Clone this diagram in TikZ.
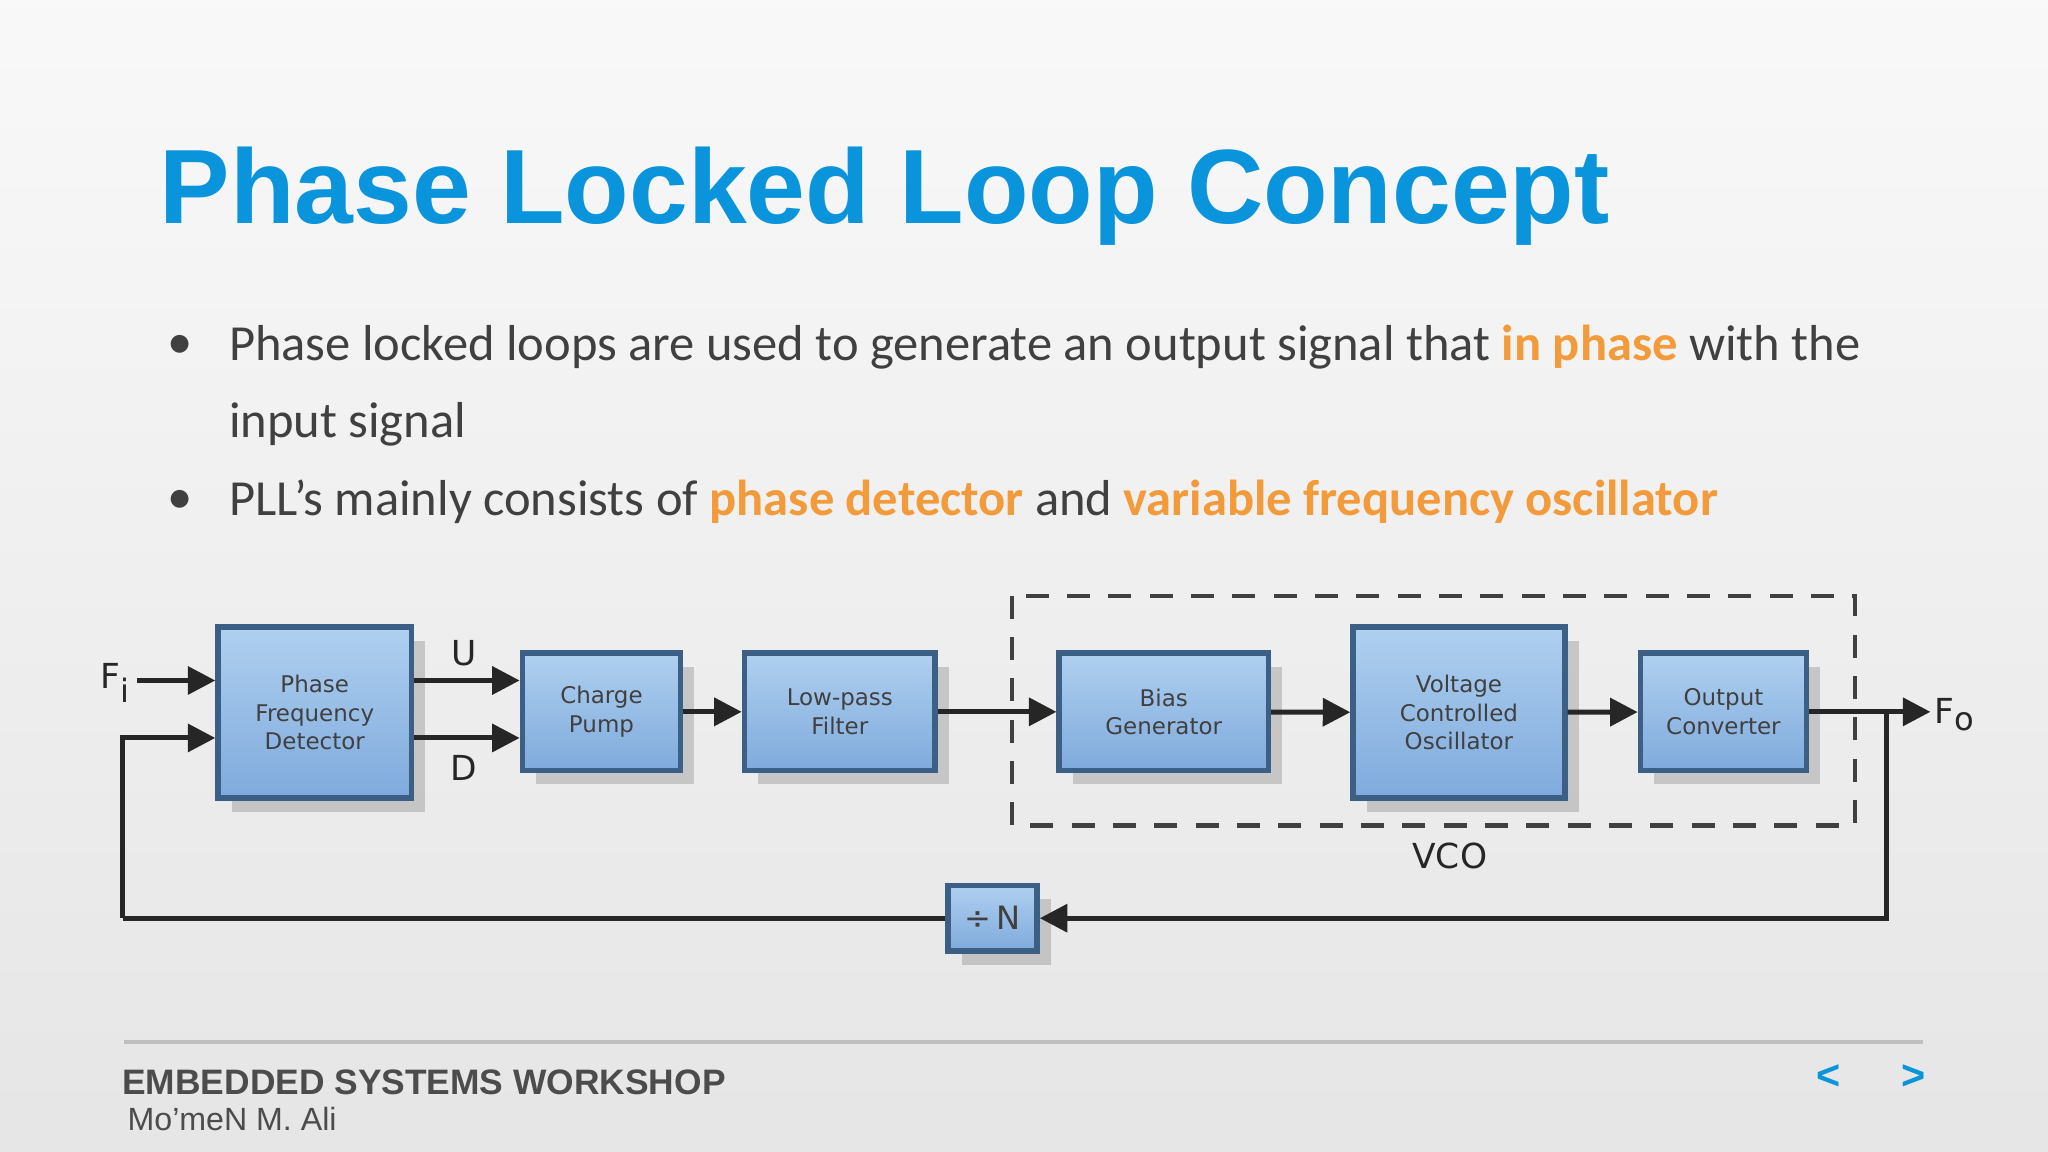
\documentclass[tikz,border=0pt]{standalone}
\usepackage{fontspec}
\setmainfont{Carlito}
\newfontfamily\titlef{Liberation Sans}
\newfontfamily\boxf{DejaVu Sans}
\usetikzlibrary{arrows.meta,shadows}
\definecolor{ttl}{HTML}{0A94DC}
\definecolor{org}{HTML}{F39A3A}
\definecolor{btop}{HTML}{AFD0F0}
\definecolor{bbot}{HTML}{7FAADC}
\definecolor{bdraw}{HTML}{3C5F86}
\begin{document}
\begin{tikzpicture}[x=0.01cm,y=-0.01cm,
  blk/.style={draw=bdraw,line width=1.2pt,top color=btop,bottom color=bbot,
    drop shadow={shadow xshift=3pt,shadow yshift=-3pt,opacity=0.35},
    font=\boxf\fontsize{5}{6.2}\selectfont,text=black!75,align=center,inner sep=0pt},
  wire/.style={line width=1.1pt,black!85},
  arr/.style={wire,-{Triangle[length=6pt,width=6pt]}},
  lbl/.style={font=\boxf\fontsize{7.5}{8}\selectfont,text=black!85},
  body/.style={anchor=west,font=\fontsize{11}{12}\selectfont,text=black!75}]
\shade[top color=white!95!gray,bottom color=black!10] (0,0) rectangle (1568,882);
\useasboundingbox (0,0) rectangle (1568,882);
\node[anchor=west,text=ttl,font=\titlef\bfseries\fontsize{23}{27}\selectfont] (title) at (110,150) {Phase Locked Loop Concept};
\node[body] (b1) at (116,266) {•};
\node[body] (t1) at (163,266) {Phase locked loops are used to generate an output signal that \textcolor{org}{\bfseries in phase} with the};
\node[body] (t2) at (163,325) {input signal};
\node[body] (b2) at (116,384) {•};
\node[body] (t3) at (163,384) {PLL’s mainly consists of \textcolor{org}{\bfseries phase detector} and \textcolor{org}{\bfseries variable frequency oscillator}};
% blocks
\draw[line width=0.9pt,black!75,dash pattern=on 5pt off 4pt] (775,456) rectangle (1420,632);
\node[blk,minimum width=14.8mm,minimum height=13.1mm] (pfd) at (241,545.5) {Phase\\Frequency\\Detector};
\node[blk,minimum width=12.1mm,minimum height=9mm] (cp) at (460.5,545) {Charge\\Pump};
\node[blk,minimum width=14.6mm,minimum height=9mm] (lpf) at (643,545) {Low-pass\\Filter};
\node[blk,minimum width=16mm,minimum height=9mm] (bias) at (891,545) {Bias\\Generator};
\node[blk,minimum width=16.2mm,minimum height=13.1mm] (vco) at (1117,545.5) {Voltage\\Controlled\\Oscillator};
\node[blk,minimum width=12.7mm,minimum height=9mm] (oc) at (1319.5,545) {Output\\Converter};
\node[blk,minimum width=6.8mm,minimum height=5mm,font=\boxf\fontsize{7}{8}\selectfont] (div) at (760,703) {÷\,N};
\node[lbl] (vcol) at (1110,655) {VCO};
\node[lbl] (fi) at (89,523) {F\textsubscript{\scriptsize i}};
\node[lbl] (fo) at (1497,547) {F\textsubscript{\scriptsize o}};
\node[lbl] (ul) at (355,500) {U};
\node[lbl] (dl) at (355,588) {D};
\coordinate (fis) at (105,521);
\coordinate (fbl) at (94,703);
\coordinate (fbr) at (1444,703);
\coordinate (fbt) at (1444,545);
\coordinate (fend) at (1478,545);
\draw[arr] (fis) -- (fis -| pfd.west);
\draw[arr] (fbl) |- (pfd.west |- 0,565);
\draw[wire] (div.west) -- (fbl);
\draw[arr] (pfd.east |- 0,521) -- (cp.west |- 0,521);
\draw[arr] (pfd.east |- 0,565) -- (cp.west |- 0,565);
\draw[arr] (cp) -- (lpf);
\draw[arr] (lpf) -- (bias);
\draw[arr] (bias) -- (vco);
\draw[arr] (vco) -- (oc);
\draw[arr] (oc.east) -- (fend);
\draw[arr] (fbt) -- (fbr) -- (div.east);
% footer
\draw[black!25,line width=0.8pt] (95,798) -- (1472,798);
\node[anchor=west,font=\titlef\bfseries\fontsize{7.7}{9}\selectfont,text=black!70,inner sep=0] (ft) at (93,829) {EMBEDDED SYSTEMS WORKSHOP};
\node[anchor=west,font=\titlef\fontsize{7}{8}\selectfont,text=black!70,inner sep=0] (fa) at (97,857) {Mo’meN M. Ali};
\node[text=ttl,font=\titlef\bfseries\fontsize{9}{10}\selectfont] (prev) at (1400,825) {<};
\node[text=ttl,font=\titlef\bfseries\fontsize{9}{10}\selectfont] (next) at (1465,825) {>};
\end{tikzpicture}
\end{document}
